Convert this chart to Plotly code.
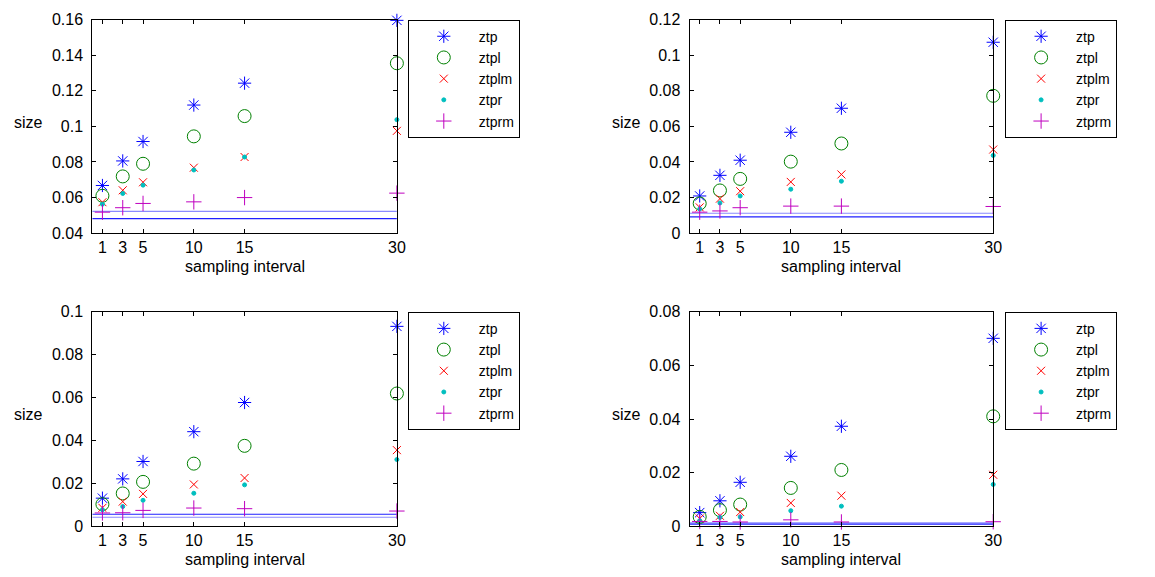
import plotly.graph_objects as go

W, H = 1155, 577

intervals = [1, 3, 5, 10, 15, 30]
series_names = ["ztp", "ztpl", "ztplm", "ztpr", "ztprm"]

# panel 1 (top-left)
p1_ztp = [0.0668, 0.0806, 0.0915, 0.1120, 0.1243, 0.1596]
p1_ztpl = [0.0610, 0.0719, 0.0790, 0.0944, 0.1058, 0.1355]
p1_ztplm = [0.0574, 0.0641, 0.0686, 0.0768, 0.0828, 0.0975]
p1_ztpr = [0.0563, 0.0623, 0.0670, 0.0755, 0.0828, 0.1038]
p1_ztprm = [0.0518, 0.0543, 0.0567, 0.0576, 0.0600, 0.0625]
p1_hlines = [0.0523, 0.0482]

# panel 2 (top-right)
p2_ztp = [0.0209, 0.0325, 0.0410, 0.0567, 0.0702, 0.1073]
p2_ztpl = [0.0167, 0.0240, 0.0305, 0.0402, 0.0504, 0.0772]
p2_ztplm = [0.0145, 0.0194, 0.0236, 0.0288, 0.0330, 0.0470]
p2_ztpr = [0.0136, 0.0170, 0.0209, 0.0247, 0.0292, 0.0437]
p2_ztprm = [0.0118, 0.0125, 0.0143, 0.0152, 0.0152, 0.0150]
p2_hlines = [0.0112, 0.0092]

# panel 3 (bottom-left)
p3_ztp = [0.0131, 0.0221, 0.0302, 0.0441, 0.0577, 0.0932]
p3_ztpl = [0.0103, 0.0153, 0.0207, 0.0292, 0.0375, 0.0619]
p3_ztplm = [0.0086, 0.0115, 0.0151, 0.0195, 0.0225, 0.0355]
p3_ztpr = [0.0077, 0.0092, 0.0121, 0.0154, 0.0193, 0.0311]
p3_ztprm = [0.0062, 0.0063, 0.0074, 0.0085, 0.0082, 0.0071]
p3_hlines = [0.0042, 0.0056]

# panel 4 (bottom-right)
p4_ztp = [0.0051, 0.0095, 0.0164, 0.0261, 0.0373, 0.0701]
p4_ztpl = [0.0035, 0.0060, 0.0081, 0.0143, 0.0210, 0.0410]
p4_ztplm = [0.0029, 0.0039, 0.0053, 0.0087, 0.0114, 0.0192]
p4_ztpr = [0.0021, 0.0033, 0.0035, 0.0058, 0.0075, 0.0156]
p4_ztprm = [0.0018, 0.0018, 0.0016, 0.0024, 0.0016, 0.0017]
p4_hlines = [0.0013, 0.0008]

p1_yticks = [0.04, 0.06, 0.08, 0.10, 0.12, 0.14, 0.16]
p1_ytext = ["0.04", "0.06", "0.08", "0.1", "0.12", "0.14", "0.16"]
p2_yticks = [0, 0.02, 0.04, 0.06, 0.08, 0.10, 0.12]
p2_ytext = ["0", "0.02", "0.04", "0.06", "0.08", "0.1", "0.12"]
p3_yticks = [0, 0.02, 0.04, 0.06, 0.08, 0.10]
p3_ytext = ["0", "0.02", "0.04", "0.06", "0.08", "0.1"]
p4_yticks = [0, 0.02, 0.04, 0.06, 0.08]
p4_ytext = ["0", "0.02", "0.04", "0.06", "0.08"]

panels = [
    dict(data=[p1_ztp, p1_ztpl, p1_ztplm, p1_ztpr, p1_ztprm], hl=p1_hlines,
         hlc=["#8a8aff", "#2020ff"], yr=[0.04, 0.16], yt=p1_yticks, ytt=p1_ytext,
         box=(93, 400, 12, 232), leg=(411, 12)),
    dict(data=[p2_ztp, p2_ztpl, p2_ztplm, p2_ztpr, p2_ztprm], hl=p2_hlines,
         hlc=["#8a8aff", "#2020ff"], yr=[0, 0.12], yt=p2_yticks, ytt=p2_ytext,
         box=(695, 1001, 12, 232), leg=(1013, 12)),
    dict(data=[p3_ztp, p3_ztpl, p3_ztplm, p3_ztpr, p3_ztprm], hl=p3_hlines,
         hlc=["#8a8aff", "#2020ff"], yr=[0, 0.10], yt=p3_yticks, ytt=p3_ytext,
         box=(93, 400, 313, 534), leg=(411, 313)),
    dict(data=[p4_ztp, p4_ztpl, p4_ztplm, p4_ztpr, p4_ztprm], hl=p4_hlines,
         hlc=["#8a8aff", "#2020ff"], yr=[0, 0.08], yt=p4_yticks, ytt=p4_ytext,
         box=(695, 1001, 313, 534), leg=(1013, 313)),
]

styles = [
    dict(symbol="asterisk-open", size=11, color="#0000ff"),
    dict(symbol="circle-open", size=13, color="#008000"),
    dict(symbol="x-thin-open", size=8, color="#ff0000"),
    dict(symbol="circle", size=4, color="#00bfbf"),
    dict(symbol="cross-thin-open", size=11, color="#bf00bf"),
]

FONT = "Liberation Sans, Arial, sans-serif"
FS = 16

fig = go.Figure()
layout = dict(
    width=W, height=H, margin=dict(l=0, r=0, t=0, b=0),
    paper_bgcolor="white", plot_bgcolor="white",
    font=dict(family=FONT, size=FS, color="black"),
    annotations=[],
)

for i, p in enumerate(panels):
    n = i + 1
    xa = "x" if n == 1 else f"x{n}"
    ya = "y" if n == 1 else f"y{n}"
    lg = "legend" if n == 1 else f"legend{n}"
    for hv, hc in zip(p["hl"], p["hlc"]):
        fig.add_trace(go.Scatter(x=[0, 30], y=[hv, hv], mode="lines",
                                 line=dict(color=hc, width=1.2), showlegend=False,
                                 xaxis=xa, yaxis=ya, hoverinfo="skip"))
    for name, vals, st in zip(series_names, p["data"], styles):
        fig.add_trace(go.Scatter(
            x=intervals, y=vals, mode="markers", name=name, cliponaxis=False,
            marker=dict(symbol=st["symbol"], size=st["size"], color=st["color"],
                        line=dict(color=st["color"], width=1)),
            xaxis=xa, yaxis=ya, legend=lg))
    x0, x1, y0, y1 = p["box"]
    xkey = "xaxis" if n == 1 else f"xaxis{n}"
    ykey = "yaxis" if n == 1 else f"yaxis{n}"
    layout[xkey] = dict(domain=[x0 / W, x1 / W], anchor=ya, range=[0, 30],
                        tickvals=intervals, ticktext=[str(v) for v in intervals],
                        showline=True, linecolor="black", linewidth=1, mirror="ticks",
                        ticks="inside", ticklen=4, tickcolor="black",
                        showgrid=False, zeroline=False, tickfont=dict(size=FS))
    layout[ykey] = dict(domain=[1 - y1 / H, 1 - y0 / H], anchor=xa, range=p["yr"],
                        tickvals=p["yt"], ticktext=p["ytt"],
                        showline=True, linecolor="black", linewidth=1, mirror="ticks",
                        ticks="inside", ticklen=4, tickcolor="black",
                        showgrid=False, zeroline=False, tickfont=dict(size=FS),
                        ticklabelstandoff=5)
    lx, ly = p["leg"]
    layout[lg] = dict(x=lx / W, y=1 - ly / H, xanchor="left", yanchor="top",
                      bordercolor="black", borderwidth=1, bgcolor="white",
                      font=dict(family=FONT, size=14), tracegroupgap=0,
                      itemwidth=60)
    layout["annotations"].append(dict(
        text="sampling interval", x=(x0 + x1) / 2 / W, y=1 - (y1 + 34) / H,
        xref="paper", yref="paper", xanchor="center", yanchor="middle",
        showarrow=False, font=dict(size=FS)))
    layout["annotations"].append(dict(
        text="size", x=(x0 - 64) / W, y=1 - (y0 + 106) / H,
        xref="paper", yref="paper", xanchor="center", yanchor="middle",
        showarrow=False, font=dict(size=FS)))

fig.update_layout(**layout)
fig.write_html("out.html")
